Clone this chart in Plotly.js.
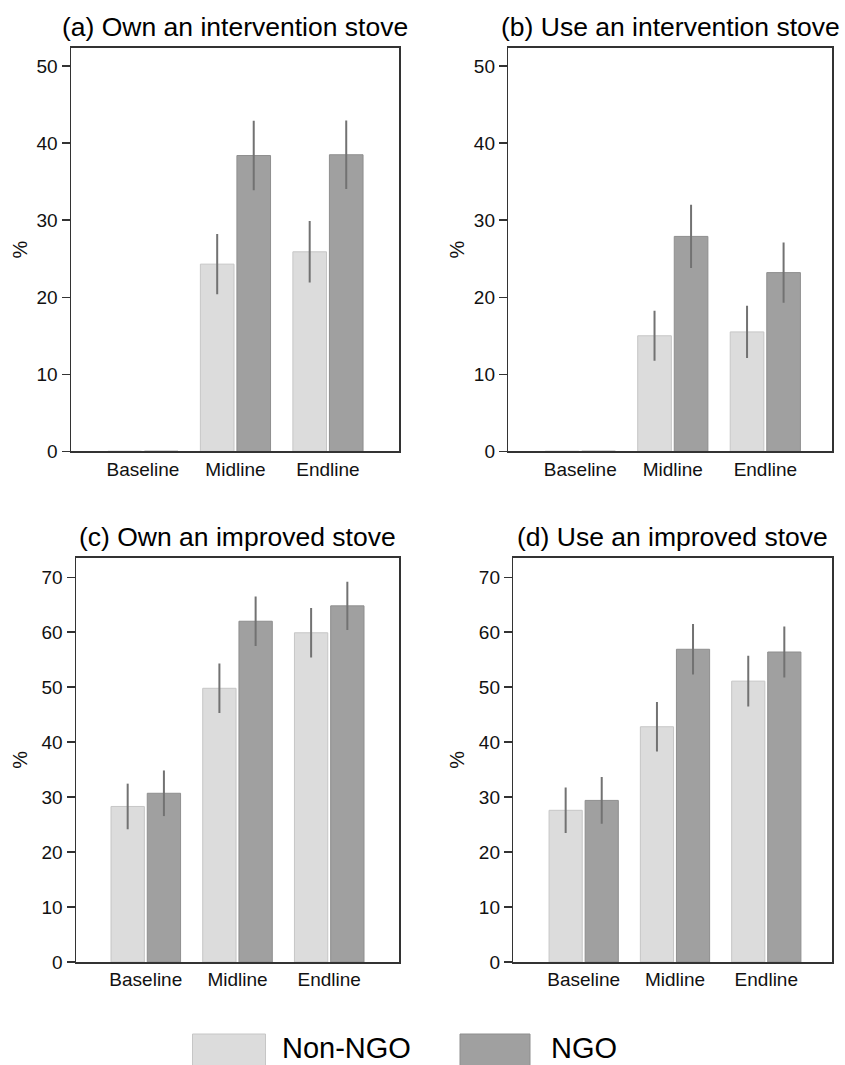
<!DOCTYPE html>
<html>
<head>
<meta charset="utf-8">
<script src="https://cdn.plot.ly/plotly-3.0.1.min.js"></script>
<style>
  html, body { margin: 0; padding: 0; background: #fff; }
  #chart { width: 845px; height: 1065px; }
</style>
</head>
<body>
<div id="chart"></div>
<script>
// ---------- data ----------
const categories = ['Baseline', 'Midline', 'Endline'];
const seriesNames = ['Non-NGO', 'NGO'];
const panelTitles = [
  '(a) Own an intervention stove',
  '(b) Use an intervention stove',
  '(c) Own an improved stove',
  '(d) Use an improved stove'
];
const yTitle = '%';

// (a) Own an intervention stove
const ownInterventionNonNGO = [0, 24.3, 25.9];
const ownInterventionNonNGOErr = [0, 3.9, 4.0];
const ownInterventionNGO = [0, 38.4, 38.5];
const ownInterventionNGOErr = [0, 4.5, 4.45];

// (b) Use an intervention stove
const useInterventionNonNGO = [0, 15.0, 15.5];
const useInterventionNonNGOErr = [0, 3.25, 3.4];
const useInterventionNGO = [0, 27.9, 23.2];
const useInterventionNGOErr = [0, 4.1, 3.9];

// (c) Own an improved stove
const ownImprovedNonNGO = [28.3, 49.8, 59.9];
const ownImprovedNonNGOErr = [4.15, 4.5, 4.5];
const ownImprovedNGO = [30.7, 62.0, 64.8];
const ownImprovedNGOErr = [4.15, 4.5, 4.4];

// (d) Use an improved stove
const useImprovedNonNGO = [27.6, 42.8, 51.1];
const useImprovedNonNGOErr = [4.15, 4.5, 4.6];
const useImprovedNGO = [29.4, 56.9, 56.4];
const useImprovedNGOErr = [4.25, 4.6, 4.65];

const yTicksTop = [0, 10, 20, 30, 40, 50];
const yTicksBottom = [0, 10, 20, 30, 40, 50, 60, 70];

// ---------- styles ----------
const W = 845, H = 1065;
const FONT = 'Liberation Sans, Arial, Helvetica, sans-serif';
const lightFill = '#dcdcdc', lightLine = '#c6c6c6';
const darkFill = '#a0a0a0', darkLine = '#8e8e8e';
const errColor = '#727272';
const frameColor = '#333333';

const px = v => v / W;
const py = v => 1 - v / H;

// panel boxes in pixels: [left, right, top, bottom]
const boxes = [
  [71, 399, 47.7, 451.3],
  [508.3, 832.3, 47.7, 451.3],
  [76, 399.3, 557.7, 962],
  [513.3, 832.3, 557.7, 962]
];
const xRanges = [[-0.778, 2.768], [-0.778, 2.724], [-0.761, 2.764], [-0.771, 2.723]];
const yRanges = [[0, 52.4], [0, 52.4], [0, 73.56], [0, 73.56]];
const yTickSets = [yTicksTop, yTicksTop, yTicksBottom, yTicksBottom];

const panels = [
  [ownInterventionNonNGO, ownInterventionNonNGOErr, ownInterventionNGO, ownInterventionNGOErr],
  [useInterventionNonNGO, useInterventionNonNGOErr, useInterventionNGO, useInterventionNGOErr],
  [ownImprovedNonNGO, ownImprovedNonNGOErr, ownImprovedNGO, ownImprovedNGOErr],
  [useImprovedNonNGO, useImprovedNonNGOErr, useImprovedNGO, useImprovedNGOErr]
];

const traces = [];
const layout = {
  width: W, height: H,
  margin: {l: 0, r: 0, t: 0, b: 0},
  paper_bgcolor: '#fff', plot_bgcolor: '#fff',
  showlegend: false,
  barmode: 'group',
  bargap: 0.21,
  bargroupgap: 0.08,
  font: {family: FONT, color: '#111'},
  annotations: [],
  shapes: []
};

panels.forEach((p, i) => {
  const n = i + 1;
  const xa = n === 1 ? 'x' : 'x' + n;
  const ya = n === 1 ? 'y' : 'y' + n;
  const fills = [[lightFill, lightLine], [darkFill, darkLine]];
  [0, 1].forEach(s => {
    traces.push({
      type: 'bar',
      name: seriesNames[s],
      x: categories,
      y: p[s * 2],
      xaxis: xa, yaxis: ya,
      marker: {color: fills[s][0], line: {color: fills[s][1], width: 1}},
      error_y: {type: 'data', array: p[s * 2 + 1], visible: true, color: errColor, thickness: 2, width: 0},
      hoverinfo: 'x+y'
    });
  });
  const b = boxes[i];
  const xKey = n === 1 ? 'xaxis' : 'xaxis' + n;
  const yKey = n === 1 ? 'yaxis' : 'yaxis' + n;
  layout[xKey] = {
    domain: [px(b[0]), px(b[1])],
    anchor: ya,
    range: xRanges[i],
    type: 'category',
    showgrid: false, zeroline: false,
    showline: true, mirror: true, linecolor: frameColor, linewidth: 1.5,
    ticks: '',
    tickfont: {size: 19, color: '#111', family: FONT},
    fixedrange: true
  };
  layout[yKey] = {
    domain: [py(b[3]), py(b[2])],
    anchor: xa,
    range: yRanges[i],
    tickmode: 'array',
    tickvals: yTickSets[i],
    showgrid: false, zeroline: false,
    showline: true, mirror: true, linecolor: frameColor, linewidth: 1.5,
    ticks: 'outside', ticklen: 8, tickwidth: 1.5, tickcolor: frameColor,
    tickfont: {size: 19, color: '#111', family: FONT},
    fixedrange: true
  };
  // panel title
  layout.annotations.push({
    text: panelTitles[i], xref: 'paper', yref: 'paper',
    x: px((b[0] + b[1]) / 2), y: py(b[2] - 20.5),
    xanchor: 'center', yanchor: 'middle', showarrow: false,
    font: {size: 26.5, color: '#000', family: FONT}
  });
  // y axis title
  layout.annotations.push({
    text: yTitle, xref: 'paper', yref: 'paper',
    x: px(i % 2 === 0 ? 20 : 457), y: py((b[2] + b[3]) / 2),
    xanchor: 'center', yanchor: 'middle', showarrow: false, textangle: -90,
    font: {size: 20, color: '#111', family: FONT}
  });
});

// legend (drawn as swatches + labels at the bottom)
const legendItems = [
  {name: seriesNames[0], fill: lightFill, line: lightLine, x0: 192.5, x1: 265.5, tx: 280},
  {name: seriesNames[1], fill: darkFill, line: darkLine, x0: 460, x1: 530, tx: 549}
];
legendItems.forEach(it => {
  layout.shapes.push({
    type: 'rect', xref: 'paper', yref: 'paper',
    x0: px(it.x0), x1: px(it.x1), y0: py(1034), y1: py(1075),
    fillcolor: it.fill, line: {color: it.line, width: 1}
  });
  layout.annotations.push({
    text: it.name, xref: 'paper', yref: 'paper',
    x: px(it.tx), y: py(1048),
    xanchor: 'left', yanchor: 'middle', showarrow: false,
    font: {size: 29, color: '#000', family: FONT}
  });
});

Plotly.newPlot('chart', traces, layout, {displayModeBar: false, staticPlot: true});
</script>
</body>
</html>
